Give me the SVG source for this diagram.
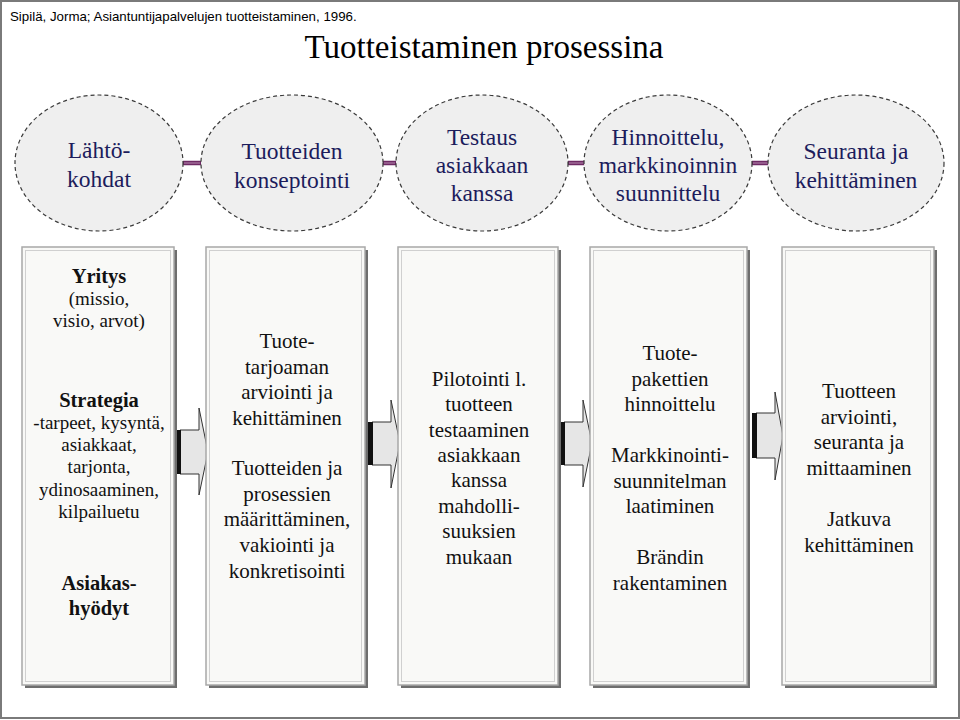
<svg xmlns="http://www.w3.org/2000/svg" width="960" height="720" viewBox="0 0 960 720">
<defs>
<style>
.cite{font-family:"Liberation Sans",Arial,sans-serif;font-size:13.3px;fill:#000}
.title{font-family:"Liberation Serif","Times New Roman",serif;font-size:33px;fill:#000;text-anchor:middle}
.ell{fill:#efefef;stroke:#3a3a3a;stroke-width:1.2;stroke-dasharray:4 3}
.et{font-family:"Liberation Serif","Times New Roman",serif;font-size:23.5px;fill:#1c1c5c;text-anchor:middle}
.shadow{fill:#6e6e6e}
.box{fill:#f9f9f7;stroke:#a8a8a8;stroke-width:1.5}
.boxin{fill:none;stroke:#d0d0d0;stroke-width:1}
.bt{font-family:"Liberation Serif","Times New Roman",serif;font-size:21px;fill:#111;text-anchor:middle}
.bt1{font-family:"Liberation Serif","Times New Roman",serif;font-size:19px;fill:#111;text-anchor:middle}
.bb{font-weight:bold;font-size:20.5px}
.link{stroke:#6e2a64;stroke-width:4.5;fill:none}
.linkhi{stroke:#b98ab2;stroke-width:1;fill:none}
.arrow{fill:#e6e6e6;stroke:#333;stroke-width:1}
.bar{fill:#111}
</style>
</defs>
<rect x="1" y="1" width="958" height="717" fill="#fff" stroke="#7a7a7a" stroke-width="2"/>
<text class="cite" x="10" y="21">Sipilä, Jorma; Asiantuntijapalvelujen tuotteistaminen, 1996.</text>
<text class="title" x="484" y="58">Tuotteistaminen prosessina</text>

<g id="connectors">
<line class="link" x1="183" y1="163" x2="201" y2="163"/>
<line class="linkhi" x1="184" y1="163" x2="200" y2="163"/>
<line class="link" x1="383" y1="163" x2="396" y2="163"/>
<line class="linkhi" x1="384" y1="163" x2="395" y2="163"/>
<line class="link" x1="568" y1="163" x2="585" y2="163"/>
<line class="linkhi" x1="569" y1="163" x2="584" y2="163"/>
<line class="link" x1="752" y1="163" x2="769" y2="163"/>
<line class="linkhi" x1="753" y1="163" x2="768" y2="163"/>
<g id="arrow1"><polygon class="arrow" points="180,430 199,430 199,408 208,452 199,495 199,474 180,474"/><rect class="bar" x="176" y="430" width="5" height="44"/></g>
<g id="arrow2"><polygon class="arrow" points="372,422 391,422 391,400 400,443 391,488 391,465 372,465"/><rect class="bar" x="368" y="422" width="5" height="43"/></g>
<g id="arrow3"><polygon class="arrow" points="564,422 583,422 583,400 592,443 583,487 583,465 564,465"/><rect class="bar" x="560" y="422" width="5" height="43"/></g>
<g id="arrow4"><polygon class="arrow" points="756,413 775,413 775,392 783,436 775,480 775,458 756,458"/><rect class="bar" x="752" y="413" width="5" height="45"/></g>
</g>

<g id="e1"><ellipse class="ell" cx="99" cy="163" rx="84" ry="68"/>
<text class="et" x="99" y="158">Lähtö-</text><text class="et" x="99" y="187">kohdat</text></g>
<g id="e2"><ellipse class="ell" cx="292" cy="163" rx="91" ry="68"/>
<text class="et" x="292" y="159">Tuotteiden</text><text class="et" x="292" y="188">konseptointi</text></g>
<g id="e3"><ellipse class="ell" cx="482" cy="163" rx="86" ry="68"/>
<text class="et" x="482" y="145">Testaus</text><text class="et" x="482" y="173">asiakkaan</text><text class="et" x="482" y="201">kanssa</text></g>
<g id="e4"><ellipse class="ell" cx="668" cy="163" rx="84" ry="68"/>
<text class="et" x="668" y="145">Hinnoittelu,</text><text class="et" x="668" y="173">markkinoinnin</text><text class="et" x="668" y="201">suunnittelu</text></g>
<g id="e5"><ellipse class="ell" cx="856" cy="163" rx="88" ry="68"/>
<text class="et" x="856" y="159">Seuranta ja</text><text class="et" x="856" y="188">kehittäminen</text></g>

<g id="b1"><rect class="shadow" x="25" y="250" width="152" height="438"/><rect class="box" x="22" y="247" width="152" height="438"/><rect class="boxin" x="25.5" y="250.5" width="145" height="431"/>
<text class="bt1 bb" x="99" y="283">Yritys</text>
<text class="bt1" x="99" y="305">(missio,</text>
<text class="bt1" x="99" y="327">visio, arvot)</text>
<text class="bt1 bb" x="99" y="407">Strategia</text>
<text class="bt1" x="99" y="429">-tarpeet, kysyntä,</text>
<text class="bt1" x="99" y="451">asiakkaat,</text>
<text class="bt1" x="99" y="473">tarjonta,</text>
<text class="bt1" x="99" y="496">ydinosaaminen,</text>
<text class="bt1" x="99" y="518">kilpailuetu</text>
<text class="bt1 bb" x="99" y="590">Asiakas-</text>
<text class="bt1 bb" x="99" y="615">hyödyt</text></g>

<g id="b2"><rect class="shadow" x="209" y="250" width="159" height="438"/><rect class="box" x="206" y="247" width="159" height="438"/><rect class="boxin" x="209.5" y="250.5" width="152" height="431"/>
<text class="bt" x="287" y="348">Tuote-</text>
<text class="bt" x="287" y="374">tarjoaman</text>
<text class="bt" x="287" y="399">arviointi ja</text>
<text class="bt" x="287" y="425">kehittäminen</text>
<text class="bt" x="287" y="475">Tuotteiden ja</text>
<text class="bt" x="287" y="501">prosessien</text>
<text class="bt" x="287" y="526">määrittäminen,</text>
<text class="bt" x="287" y="552">vakiointi ja</text>
<text class="bt" x="287" y="578">konkretisointi</text></g>

<g id="b3"><rect class="shadow" x="401" y="250" width="160" height="438"/><rect class="box" x="398" y="247" width="160" height="438"/><rect class="boxin" x="401.5" y="250.5" width="153" height="431"/>
<text class="bt" x="479" y="386">Pilotointi l.</text>
<text class="bt" x="479" y="411">tuotteen</text>
<text class="bt" x="479" y="437">testaaminen</text>
<text class="bt" x="479" y="462">asiakkaan</text>
<text class="bt" x="479" y="487">kanssa</text>
<text class="bt" x="479" y="513">mahdolli-</text>
<text class="bt" x="479" y="538">suuksien</text>
<text class="bt" x="479" y="564">mukaan</text></g>

<g id="b4"><rect class="shadow" x="593" y="250" width="157" height="438"/><rect class="box" x="590" y="247" width="157" height="438"/><rect class="boxin" x="593.5" y="250.5" width="150" height="431"/>
<text class="bt" x="670" y="360">Tuote-</text>
<text class="bt" x="670" y="386">pakettien</text>
<text class="bt" x="670" y="411">hinnoittelu</text>
<text class="bt" x="670" y="462">Markkinointi-</text>
<text class="bt" x="670" y="488">suunnitelman</text>
<text class="bt" x="670" y="513">laatiminen</text>
<text class="bt" x="670" y="564">Brändin</text>
<text class="bt" x="670" y="590">rakentaminen</text></g>

<g id="b5"><rect class="shadow" x="785" y="250" width="152" height="438"/><rect class="box" x="782" y="247" width="152" height="438"/><rect class="boxin" x="785.5" y="250.5" width="145" height="431"/>
<text class="bt" x="859" y="398">Tuotteen</text>
<text class="bt" x="859" y="424">arviointi,</text>
<text class="bt" x="859" y="449">seuranta ja</text>
<text class="bt" x="859" y="475">mittaaminen</text>
<text class="bt" x="859" y="526">Jatkuva</text>
<text class="bt" x="859" y="552">kehittäminen</text></g>
</svg>
